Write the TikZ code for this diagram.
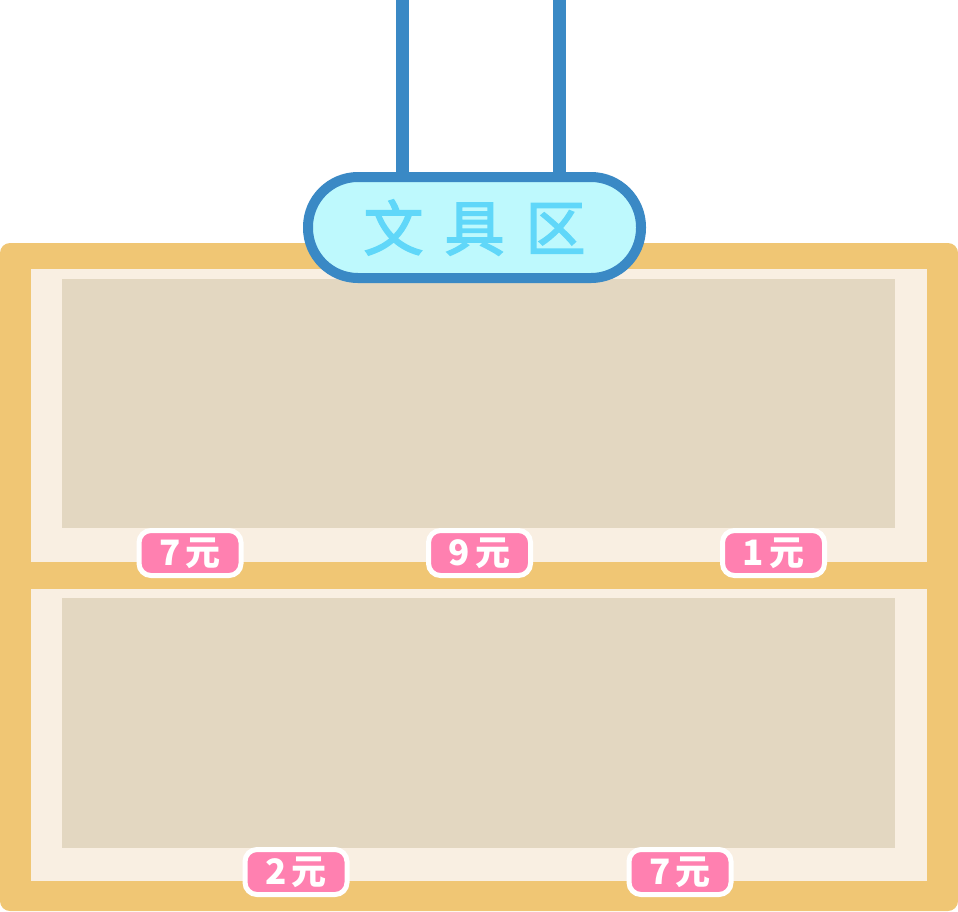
\documentclass[tikz,border=0pt]{standalone}
\usepackage{fontspec}
\newfontfamily\cjk{Noto Sans CJK SC}
\newfontfamily\cjksign[FakeBold=2.5]{Noto Sans CJK SC}
\definecolor{shelfframe}{HTML}{F0C674}
\definecolor{shelfcream}{HTML}{F9EFE2}
\definecolor{shelfboard}{HTML}{E3D7C1}
\definecolor{tagpink}{HTML}{FF80B0}
\definecolor{signblue}{HTML}{3A89C5}
\definecolor{signfill}{HTML}{BEF9FD}
\definecolor{signtext}{HTML}{60D7F9}
\tikzset{
  rope/.style={signblue, line width=13pt},
  sign/.style={draw=signblue, fill=signfill, line width=10pt, rounded corners=50pt,
    minimum width=333pt, minimum height=101pt, inner sep=0pt, text=signtext,
    font=\cjksign\fontsize{60}{60}\selectfont},
  pricetag/.style={draw=white, fill=tagpink, line width=5pt, rounded corners=12pt,
    minimum width=102pt, minimum height=45pt, inner sep=0pt, text=white,
    font=\cjk\bfseries\fontsize{35}{35}\selectfont}
}
\begin{document}
\begin{tikzpicture}[x=1pt, y=-1pt]
  \useasboundingbox (0,0) rectangle (958,911);
  %ropes
  \draw[rope] (402,0) -- (402,180);
  \draw[rope] (559.5,0) -- (559.5,180);
  %shelf
  \fill[shelfframe, rounded corners=10pt] (0,243) rectangle (958,911);
  \fill[shelfcream] (31,269) rectangle (927,562);
  \fill[shelfcream] (31,589) rectangle (927,881);
  \fill[shelfboard] (62,279) rectangle (895,528);
  \fill[shelfboard] (62,598) rectangle (895,848);
  %sign
  \node[sign] (sign) at (474.5,227.5) {文\hspace{21pt}具\hspace{21pt}区};
  %price tags
  \foreach \x/\y/\p [count=\i] in {190/553/7, 479.5/553/9, 773.5/553/1, 296/872/2, 680/872/7}
    \node[pricetag] (tag\i) at (\x,\y) {\p\hspace{5pt}元};
\end{tikzpicture}
\end{document}
